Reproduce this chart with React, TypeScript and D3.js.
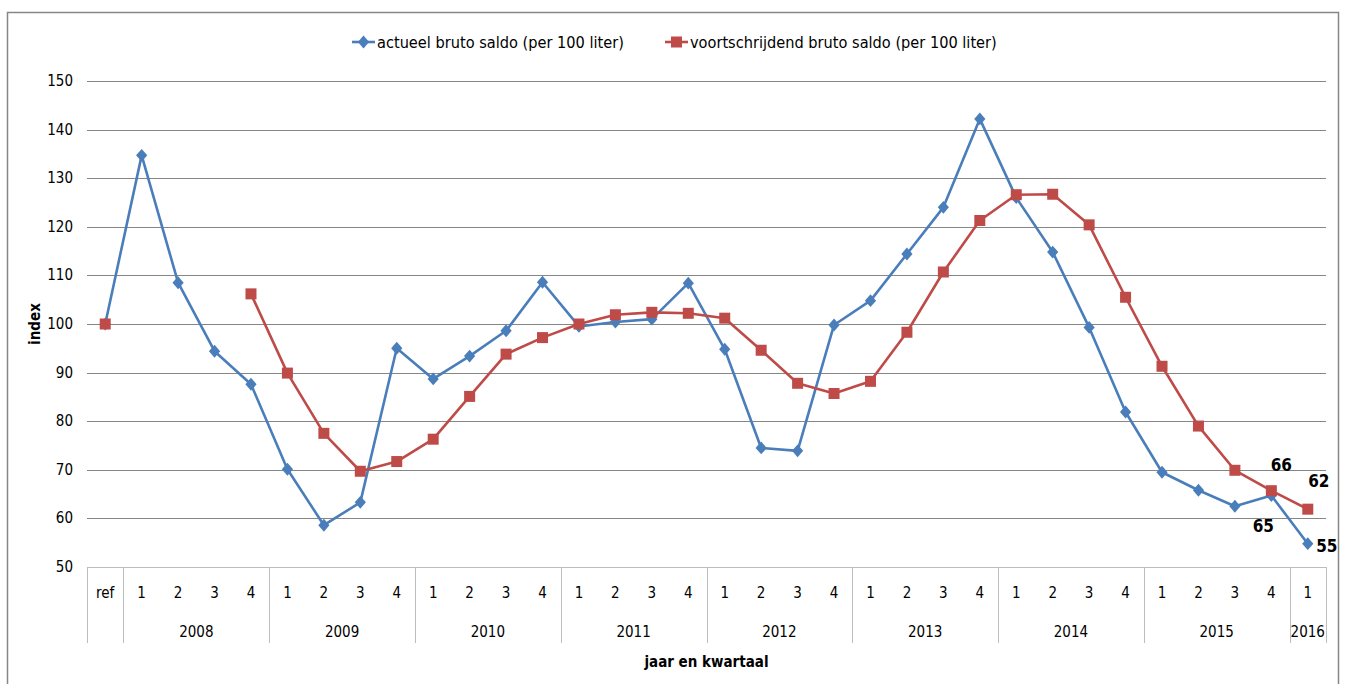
import React, { useEffect, useRef } from 'react';
import * as d3 from 'd3';

// categorieën: ref + kwartalen 2008..2016
const quarterLabels = ['ref',
  '1', '2', '3', '4', '1', '2', '3', '4', '1', '2', '3', '4', '1', '2', '3', '4',
  '1', '2', '3', '4', '1', '2', '3', '4', '1', '2', '3', '4', '1', '2', '3', '4', '1'];
const yearGroups = [
  { year: '2008', count: 4 }, { year: '2009', count: 4 }, { year: '2010', count: 4 },
  { year: '2011', count: 4 }, { year: '2012', count: 4 }, { year: '2013', count: 4 },
  { year: '2014', count: 4 }, { year: '2015', count: 4 }, { year: '2016', count: 1 },
];

const actueel = [100,
  134.7, 108.5, 94.4, 87.6,
  70.1, 58.6, 63.3, 95.0,
  88.7, 93.4, 98.6, 108.6,
  99.5, 100.4, 101.0, 108.4,
  94.8, 74.5, 73.9, 99.8,
  104.8, 114.4, 124.0, 142.2,
  126.0, 114.8, 99.3, 81.9,
  69.5, 65.8, 62.5, 64.7,
  54.8];

const voortschrijdend: (number | null)[] = [100,
  null, null, null, 106.2,
  89.9, 77.5, 69.7, 71.7,
  76.3, 85.1, 93.8, 97.2,
  100.0, 101.9, 102.4, 102.2,
  101.2, 94.6, 87.8, 85.7,
  88.2, 98.3, 110.7, 121.3,
  126.6, 126.7, 120.4, 105.5,
  91.3, 79.0, 69.9, 65.7,
  61.9];

const yTicks = [50, 60, 70, 80, 90, 100, 110, 120, 130, 140, 150];

const seriesNames = ['actueel bruto saldo (per 100 liter)', 'voortschrijdend bruto saldo (per 100 liter)'];
const BLUE = '#4A7EBB';
const RED = '#BE4B48';
const FONT = '"Liberation Sans Narrow", "DejaVu Sans Condensed", "Open Sans", sans-serif';

export default function App() {
  const ref = useRef<SVGSVGElement | null>(null);

  useEffect(() => {
    document.body.style.margin = '0';
    const svg = d3.select(ref.current);
    svg.selectAll('*').remove();

    const W = 1347, H = 684;
    const left = 87, right = 1326, top = 81, bottom = 567;

    const idx = quarterLabels.map((_, i) => i);
    const x = d3.scaleBand<number>().domain(idx).range([left, right]);
    const bw = x.bandwidth();
    const cx = (i: number) => (x(i) as number) + bw / 2;
    const y = d3.scaleLinear().domain([50, 150]).range([bottom, top]);

    svg.attr('width', W).attr('height', H).style('font-family', FONT);
    svg.append('rect').attr('width', W).attr('height', H).attr('fill', '#fff');

    // kader
    svg.append('rect').attr('x', 7.5).attr('y', 12.5).attr('width', 1331).attr('height', 700)
      .attr('fill', 'none').attr('stroke', '#868686').attr('stroke-width', 1.5);

    // rasterlijnen + y labels
    yTicks.forEach(t => {
      svg.append('line').attr('x1', left).attr('x2', right)
        .attr('y1', Math.round(y(t)) + 0.5).attr('y2', Math.round(y(t)) + 0.5)
        .attr('stroke', t === 50 ? '#bdbdbd' : '#868686').attr('stroke-width', 1);
      svg.append('text').attr('x', 73).attr('y', y(t) + 5).attr('text-anchor', 'end')
        .attr('font-size', 15).attr('fill', '#000').text(t);
    });

    // categorie-as
    const sepBottom = 643;
    const seps = [0, 1];
    let acc = 1;
    yearGroups.forEach(g => { acc += g.count; seps.push(acc); });
    seps.forEach(s => {
      const xx = s < quarterLabels.length ? (x(s) as number) : right;
      svg.append('line').attr('x1', Math.round(xx) + 0.5).attr('x2', Math.round(xx) + 0.5)
        .attr('y1', bottom).attr('y2', sepBottom).attr('stroke', '#bdbdbd').attr('stroke-width', 1);
    });
    quarterLabels.forEach((q, i) => {
      svg.append('text').attr('x', cx(i)).attr('y', 598).attr('text-anchor', 'middle')
        .attr('font-size', 15).text(q);
    });
    let start = 1;
    yearGroups.forEach(g => {
      const x0 = x(start) as number;
      const x1 = (x(start + g.count - 1) as number) + bw;
      svg.append('text').attr('x', (x0 + x1) / 2).attr('y', 637).attr('text-anchor', 'middle')
        .attr('font-size', 15).text(g.year);
      start += g.count;
    });

    // as-titels
    svg.append('text').attr('x', (left + right) / 2).attr('y', 667).attr('text-anchor', 'middle')
      .attr('font-size', 15).attr('font-weight', 'bold').text('jaar en kwartaal');
    svg.append('text').attr('transform', `translate(40, ${(top + bottom) / 2}) rotate(-90)`)
      .attr('text-anchor', 'middle').attr('font-size', 15).attr('font-weight', 'bold').text('index');

    // lijnen
    const line = d3.line<number | null>()
      .defined(d => d != null)
      .x((_, i) => cx(i))
      .y(d => y(d as number));

    svg.append('path').datum(actueel as (number | null)[]).attr('d', line)
      .attr('fill', 'none').attr('stroke', BLUE).attr('stroke-width', 2.6).attr('stroke-linejoin', 'round');
    svg.append('path').datum(voortschrijdend).attr('d', line)
      .attr('fill', 'none').attr('stroke', RED).attr('stroke-width', 2.6).attr('stroke-linejoin', 'round');

    const diamond = d3.symbol().type(d3.symbolDiamond2).size(80);
    actueel.forEach((v, i) => {
      svg.append('path').attr('d', diamond()).attr('transform', `translate(${cx(i)},${y(v)}) scale(1,1.15)`)
        .attr('fill', BLUE);
    });
    voortschrijdend.forEach((v, i) => {
      if (v == null) return;
      svg.append('rect').attr('x', cx(i) - 5.5).attr('y', y(v) - 5.5).attr('width', 11).attr('height', 11)
        .attr('fill', RED);
    });

    // datalabels
    const last = quarterLabels.length - 1;
    const labels = [
      { i: last - 1, v: voortschrijdend[last - 1] as number, dx: 10, dy: -20, t: '66' },
      { i: last - 1, v: actueel[last - 1], dx: -8, dy: 36, t: '65' },
      { i: last, v: voortschrijdend[last] as number, dx: 11, dy: -22, t: '62' },
      { i: last, v: actueel[last], dx: 19, dy: 8, t: '55' },
    ];
    labels.forEach(l => {
      svg.append('text').attr('x', cx(l.i) + l.dx).attr('y', y(l.v) + l.dy).attr('text-anchor', 'middle')
        .attr('font-size', 17).attr('font-weight', 'bold').text(l.t);
    });

    // legenda
    const legend = [
      { name: seriesNames[0], color: BLUE, x: 352, shape: 'diamond' },
      { name: seriesNames[1], color: RED, x: 665, shape: 'square' },
    ];
    legend.forEach(lg => {
      const ly = 42;
      svg.append('line').attr('x1', lg.x).attr('x2', lg.x + 23).attr('y1', ly).attr('y2', ly)
        .attr('stroke', lg.color).attr('stroke-width', 2.6);
      if (lg.shape === 'diamond') {
        svg.append('path').attr('d', diamond()).attr('transform', `translate(${lg.x + 11.5},${ly}) scale(1,1.15)`)
          .attr('fill', lg.color);
      } else {
        svg.append('rect').attr('x', lg.x + 6).attr('y', ly - 5.5).attr('width', 11).attr('height', 11)
          .attr('fill', lg.color);
      }
      svg.append('text').attr('x', lg.x + 25).attr('y', ly + 5.5).attr('font-size', 16.2).text(lg.name);
    });
  }, []);

  return <svg ref={ref} style={{ display: 'block' }} />;
}
